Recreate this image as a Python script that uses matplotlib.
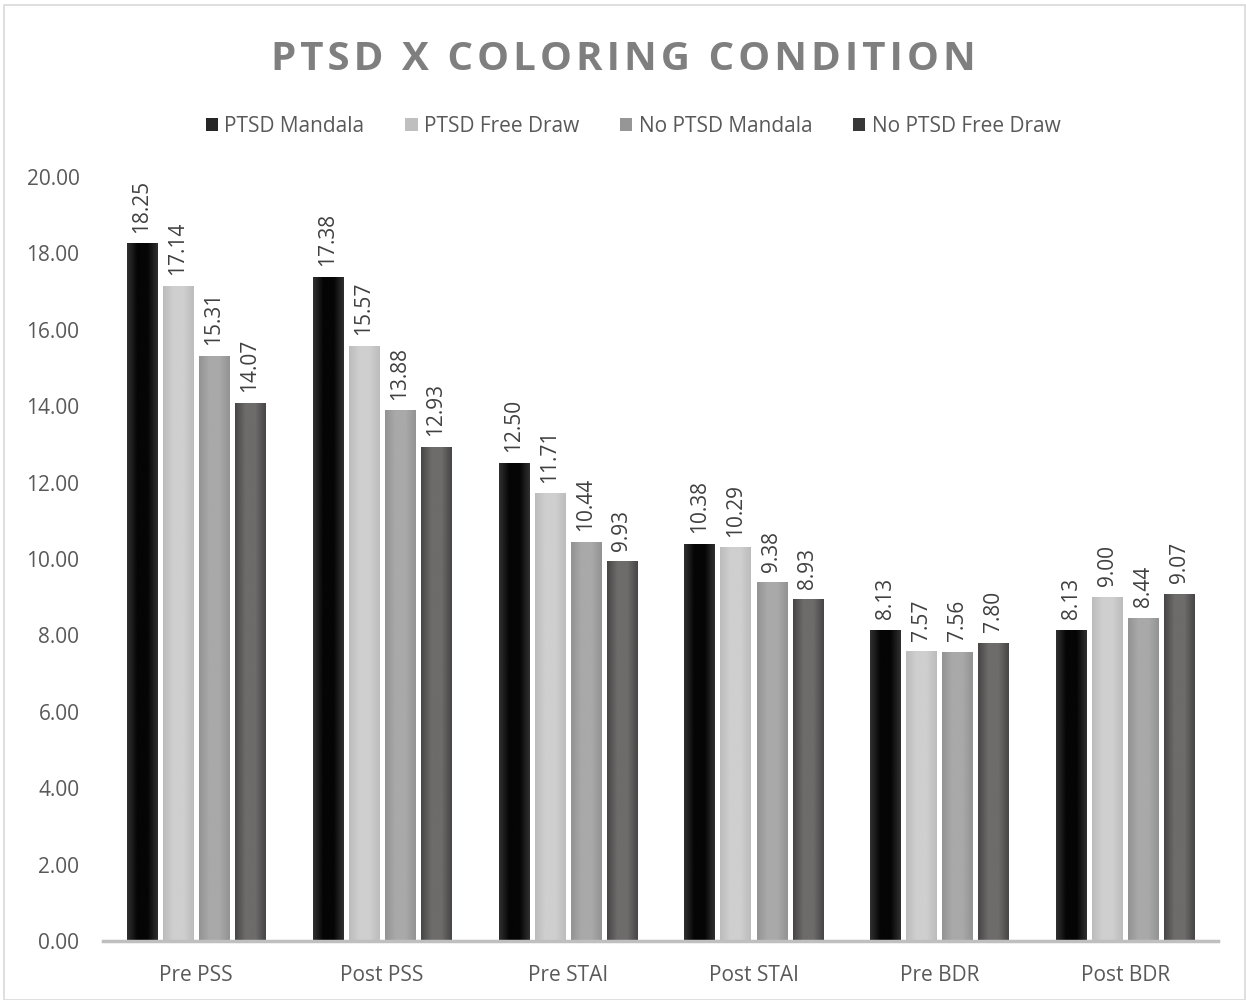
import numpy as np
import matplotlib.pyplot as plt
from matplotlib.colors import LinearSegmentedColormap
from matplotlib.patches import Rectangle

categories = ['Pre PSS', 'Post PSS', 'Pre STAI', 'Post STAI', 'Pre BDR', 'Post BDR']
series = ['PTSD Mandala', 'PTSD Free Draw', 'No PTSD Mandala', 'No PTSD Free Draw']
ptsd_mandala = [18.25, 17.38, 12.50, 10.38, 8.13, 8.13]
ptsd_free = [17.14, 15.57, 11.71, 10.29, 7.57, 9.00]
no_ptsd_mandala = [15.31, 13.88, 10.44, 9.38, 7.56, 8.44]
no_ptsd_free = [14.07, 12.93, 9.93, 8.93, 7.80, 9.07]
yticks = np.arange(0, 21, 2)

values = [ptsd_mandala, ptsd_free, no_ptsd_mandala, no_ptsd_free]
# (centre, edge) shades for the shaded bar fill
shades = [('#050505', '#303030'), ('#cfcfcf', '#bcbcbc'),
          ('#a9a9a9', '#939393'), ('#6e6b6b', '#474545')]
legend_cols = ['#262626', '#bfbfbf', '#969696', '#383838']
txt = '#595959'

plt.rcParams['font.family'] = ['Open Sans', 'DejaVu Sans']

fig = plt.figure(figsize=(12.46, 10), dpi=100)
fig.patches.append(Rectangle((0.003, 0.0), 0.996, 0.995, transform=fig.transFigure,
                             fill=False, edgecolor='#d9d9d9', lw=1.2))
ax = fig.add_axes([0.0827, 0.059, 0.895, 0.764])

x = np.arange(len(categories))
w = 0.162
step = 0.194
handles = []
for i, (name, vals) in enumerate(zip(series, values)):
    pos = x + (i - 1.5) * step
    bars = ax.bar(pos, vals, w, color=shades[i][0], label=name, zorder=2)
    cmap = LinearSegmentedColormap.from_list('s%d' % i, [shades[i][1], shades[i][0], shades[i][0], shades[i][1]])
    grad = np.linspace(0, 1, 64).reshape(1, -1)
    for b, v in zip(bars, vals):
        ax.imshow(grad, cmap=cmap, extent=[b.get_x(), b.get_x() + b.get_width(), 0, v],
                  aspect='auto', zorder=3, interpolation='bilinear')
        ax.annotate('%.2f' % v, (b.get_x() + b.get_width() / 2, v), xytext=(0, 8),
                    textcoords='offset points', rotation=90, ha='center', va='bottom',
                    fontsize=15, color='#404040')
    handles.append(Rectangle((0, 0), 1, 1, fc=legend_cols[i]))

ax.set_xlim(-0.5, len(categories) - 0.5)
ax.set_ylim(0, 20)
ax.set_yticks(yticks)
ax.set_yticklabels(['%.2f' % t for t in yticks], fontsize=15, color=txt)
ax.set_xticks(x)
ax.set_xticklabels(categories, fontsize=15, color=txt)
ax.tick_params(length=0, pad=17)
ax.tick_params(axis='y', pad=17)
for s in ['top', 'right', 'left']:
    ax.spines[s].set_visible(False)
ax.spines['bottom'].set_color('#bfbfbf')
ax.spines['bottom'].set_linewidth(2.5)
ax.spines['bottom'].set_zorder(4)

fig.legend(handles, series, loc='center', bbox_to_anchor=(0.508, 0.874), ncol=4,
           frameon=False, fontsize=15, labelcolor=txt, handlelength=0.6, handleheight=0.6,
           handletextpad=0.3, columnspacing=1.95)
fig.text(0.5, 0.94, '\u200a'.join('PTSD X COLORING CONDITION'), ha='center', va='center',
         fontsize=29, fontweight='bold', color='#7f7f7f')

fig.savefig('out.png', dpi=100)
